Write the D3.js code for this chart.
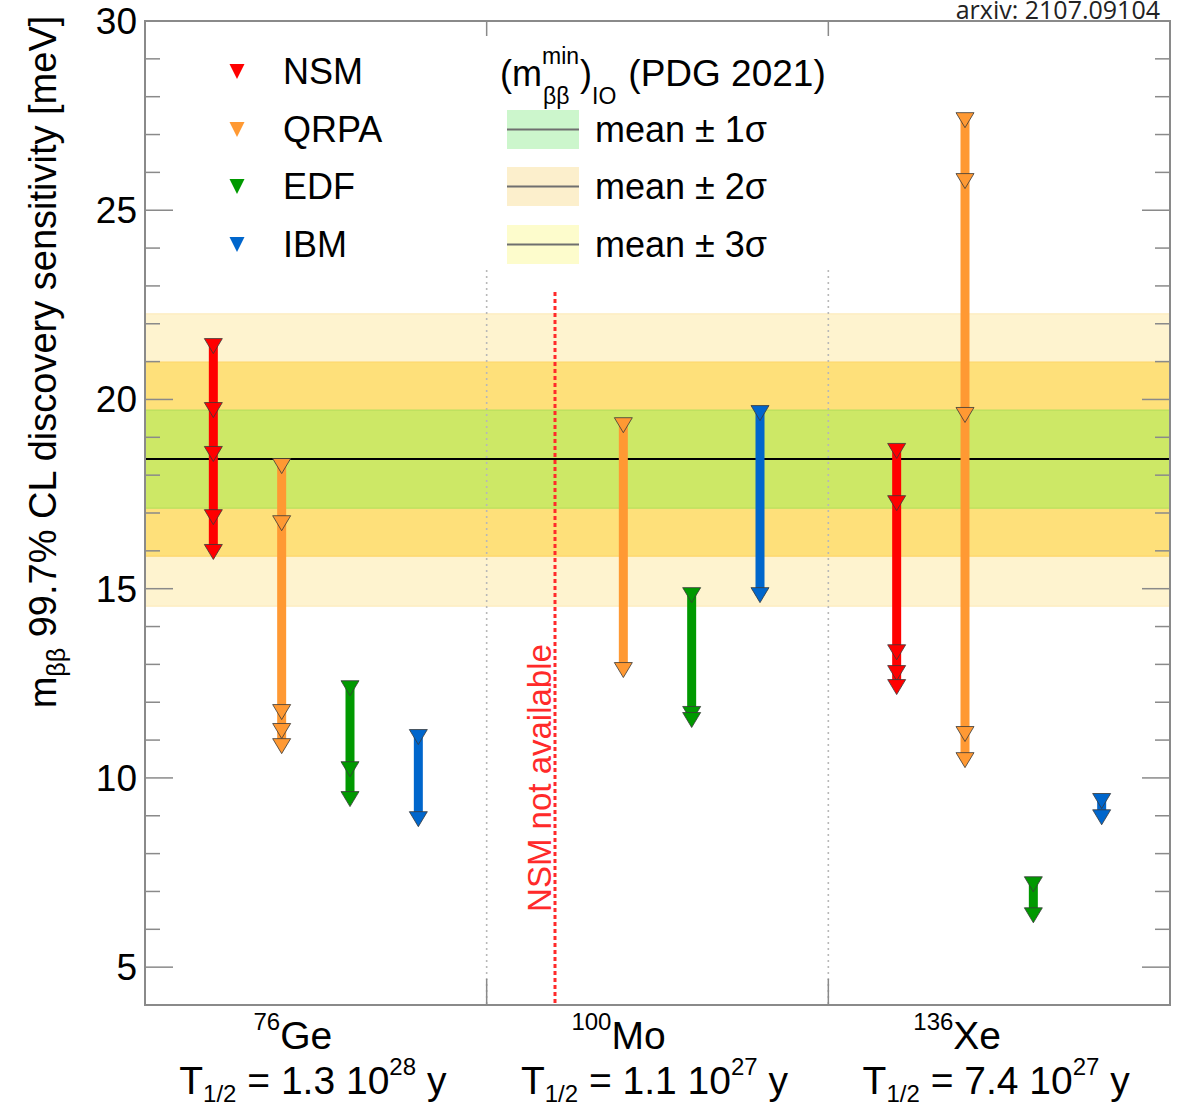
<!DOCTYPE html>
<html>
<head>
<meta charset="utf-8">
<script src="https://cdn.jsdelivr.net/npm/d3@7"></script>
<style>
  body { margin: 0; background: #fff; }
  svg { display: block; }
  text { font-family: "Liberation Sans", Arial, Helvetica, sans-serif; fill: #000; }
</style>
</head>
<body>
<svg id="chart" width="1180" height="1107"></svg>
<script>
// ---- data -------------------------------------------------------------
const isotopes = ["Ge", "Mo", "Xe"];
const massNumbers = ["76", "100", "136"];
const halfLives = ["1.3", "1.1", "7.4"];
const halfLifeExponents = ["28", "27", "27"];

const models = ["NSM", "QRPA", "EDF", "IBM"];
const modelColors = ["#ff0000", "#ff9933", "#009900", "#0066cc"];

// 99.7% CL discovery sensitivity [meV], one list per isotope (Ge, Mo, Xe)
const nsmSensitivity  = [[21.41, 19.72, 18.56, 16.89, 15.97], [], [18.64, 17.26, 13.32, 12.77, 12.40]];
const qrpaSensitivity = [[18.24, 16.73, 11.74, 11.24, 10.84], [19.32, 12.85], [27.38, 25.77, 19.59, 11.16, 10.47]];
const edfSensitivity  = [[12.37, 10.23, 9.44], [14.83, 11.69, 11.53], [7.19, 6.37]];
const ibmSensitivity  = [[11.08, 8.91], [19.64, 14.83], [9.39, 8.96]];

// (m_bb^min)_IO from PDG 2021
const ioMean = 18.43;
const bandLabels = ["mean \u00b1 1\u03c3", "mean \u00b1 2\u03c3", "mean \u00b1 3\u03c3"];
const bandLower = [17.13, 15.86, 14.54];
const bandUpper = [19.72, 20.99, 22.26];

const yTicks = [5, 10, 15, 20, 25, 30];

// ---- layout -----------------------------------------------------------
const frame = { left: 145, right: 1170, top: 21, bottom: 1005 };
const bandFill = ["#cde866", "#fee07a", "#fef3cf"];
const bandEdge = ["#b9df5c", "#fdd66a", "#fdebbd"];
const legendBoxFill = ["#ccf6cc", "#fcefcc", "#fdfccc"];

const svg = d3.select("#chart");

// each isotope takes 5 units: 4 model slots at 1..4, dividers at 5 and 10
const x = d3.scaleLinear().domain([0, 15]).range([frame.left, frame.right]);
const y = d3.scaleLinear().domain([4, 30]).range([frame.bottom, frame.top]);

const sensitivity = [nsmSensitivity, qrpaSensitivity, edfSensitivity, ibmSensitivity];

// ---- IO bands -------------------------------------------------------
const bandG = svg.append("g");
[2, 1, 0].forEach(i => {
  bandG.append("rect")
    .attr("x", frame.left).attr("width", frame.right - frame.left)
    .attr("y", y(bandUpper[i])).attr("height", y(bandLower[i]) - y(bandUpper[i]))
    .attr("fill", bandFill[i]);
  [bandLower[i], bandUpper[i]].forEach(v => {
    bandG.append("line")
      .attr("x1", frame.left).attr("x2", frame.right)
      .attr("y1", y(v)).attr("y2", y(v))
      .attr("stroke", bandEdge[i]).attr("stroke-width", 1.2);
  });
});
bandG.append("line")
  .attr("x1", frame.left).attr("x2", frame.right)
  .attr("y1", y(ioMean)).attr("y2", y(ioMean))
  .attr("stroke", "#000").attr("stroke-width", 2);

// ---- isotope dividers ----------------------------------------------
const legendBottom = 270;
[5, 10].forEach(d => {
  svg.append("line")
    .attr("x1", x(d)).attr("x2", x(d))
    .attr("y1", legendBottom).attr("y2", frame.bottom)
    .attr("stroke", "#b8b8b8").attr("stroke-width", 1.6)
    .attr("stroke-dasharray", "2,4");
});

// NSM missing for 100Mo
const moNsmX = x(1 * 5 + 1);
svg.append("line")
  .attr("x1", moNsmX).attr("x2", moNsmX)
  .attr("y1", 292).attr("y2", frame.bottom)
  .attr("stroke", "#ff2a2a").attr("stroke-width", 3)
  .attr("stroke-dasharray", "4,3");
svg.append("text")
  .attr("transform", `translate(${moNsmX - 4},${778}) rotate(-90)`)
  .attr("text-anchor", "middle")
  .style("font-size", "33px")
  .style("fill", "#ff2a2a")
  .text("NSM not available");

// ---- sensitivity arrows ---------------------------------------------
const triW = 18, triH = 15;
const triPath = `M${-triW / 2},${-triH / 2}L${triW / 2},${-triH / 2}L0,${triH / 2}Z`;

const arrowG = svg.append("g");
isotopes.forEach((iso, ii) => {
  models.forEach((m, mi) => {
    const vals = sensitivity[mi][ii];
    if (!vals.length) return;
    const cx = x(ii * 5 + mi + 1);
    const hi = d3.max(vals), lo = d3.min(vals);
    arrowG.append("line")
      .attr("x1", cx).attr("x2", cx)
      .attr("y1", y(hi)).attr("y2", y(lo))
      .attr("stroke", modelColors[mi]).attr("stroke-width", 9);
    vals.forEach(v => {
      arrowG.append("path")
        .attr("d", triPath)
        .attr("transform", `translate(${cx},${y(v)})`)
        .attr("fill", modelColors[mi])
        .attr("stroke", "#3a3a3a").attr("stroke-width", 1)
        .attr("stroke-opacity", 0.8);
    });
  });
});

// ---- frame and ticks --------------------------------------------------
const axisColor = "#8a8a8a";
svg.append("rect")
  .attr("x", frame.left).attr("y", frame.top)
  .attr("width", frame.right - frame.left).attr("height", frame.bottom - frame.top)
  .attr("fill", "none").attr("stroke", axisColor).attr("stroke-width", 2);

const tickG = svg.append("g").attr("stroke", axisColor).attr("stroke-width", 1.5);
d3.range(5, 30).forEach(v => {
  const major = v % 5 === 0;
  const len = major ? 28 : 15;
  tickG.append("line").attr("x1", frame.left).attr("x2", frame.left + len)
    .attr("y1", y(v)).attr("y2", y(v));
  tickG.append("line").attr("x1", frame.right).attr("x2", frame.right - len)
    .attr("y1", y(v)).attr("y2", y(v));
});
[5, 10].forEach(d => {
  tickG.append("line").attr("x1", x(d)).attr("x2", x(d))
    .attr("y1", frame.bottom).attr("y2", frame.bottom - 26);
  tickG.append("line").attr("x1", x(d)).attr("x2", x(d))
    .attr("y1", frame.top).attr("y2", frame.top + 15);
});

// y tick labels
svg.append("g").selectAll("text")
  .data(yTicks).join("text")
  .attr("x", frame.left - 8)
  .attr("y", d => y(d) + 13)
  .attr("text-anchor", "end")
  .style("font-size", "37px")
  .text(d => d);

// y axis title
const yTitle = svg.append("text")
  .attr("transform", `translate(56,362) rotate(-90)`)
  .attr("text-anchor", "middle")
  .style("font-size", "38px");
yTitle.append("tspan").text("m");
yTitle.append("tspan").attr("dy", 9).style("font-size", "25px").text("\u03b2\u03b2");
yTitle.append("tspan").attr("dy", -9).text(" 99.7% CL discovery sensitivity [meV]");

// isotope labels
const isoLabelShift = [-23, -39, -42];
isotopes.forEach((iso, ii) => {
  const cx = x(ii * 5 + 2.5);
  const t1 = svg.append("text")
    .attr("x", cx + isoLabelShift[ii]).attr("y", 1049)
    .attr("text-anchor", "middle")
    .style("font-size", "39px");
  t1.append("tspan").attr("dy", -19).style("font-size", "24px").text(massNumbers[ii]);
  t1.append("tspan").attr("dy", 19).text(iso);

  const t2 = svg.append("text")
    .attr("x", cx - 3).attr("y", 1094)
    .attr("text-anchor", "middle")
    .style("font-size", "39px");
  t2.append("tspan").text("T");
  t2.append("tspan").attr("dy", 8).style("font-size", "24px").text("1/2");
  t2.append("tspan").attr("dy", -8).text(` = ${halfLives[ii]} 10`);
  t2.append("tspan").attr("dy", -19).style("font-size", "24px").text(halfLifeExponents[ii]);
  t2.append("tspan").attr("dy", 19).text(" y");
});

// ---- legend -----------------------------------------------------------
const legG = svg.append("g");
const rowY = [71, 129, 186, 244];
const smallTri = `M-7.5,-7L7.5,-7L0,8Z`;
models.forEach((m, mi) => {
  legG.append("path").attr("d", smallTri)
    .attr("transform", `translate(237,${rowY[mi]})`)
    .attr("fill", modelColors[mi]);
  legG.append("text").attr("x", 283).attr("y", rowY[mi] + 13)
    .style("font-size", "36px").text(m);
});

// header: (m_bb^min)_IO (PDG 2021)
function place(txt, xPos, yPos, size) {
  const t = legG.append("text").attr("x", xPos).attr("y", yPos)
    .style("font-size", size + "px").text(txt);
  return t.node().getComputedTextLength();
}
let hx = 500;
hx += place("(m", hx, 86, 36);
const wMin = place("min", hx, 64, 23);
const wBB = place("\u03b2\u03b2", hx + 1, 104, 23);
hx += Math.max(wMin, wBB + 1) + 1;
hx += place(")", hx, 86, 36);
hx += place("IO", hx, 104, 23);
place("(PDG 2021)", hx + 12, 86, 37);

const boxY = [110, 167, 225];
bandLabels.forEach((lab, i) => {
  legG.append("rect").attr("x", 507).attr("y", boxY[i])
    .attr("width", 72).attr("height", 39)
    .attr("fill", legendBoxFill[i]);
  legG.append("line").attr("x1", 507).attr("x2", 579)
    .attr("y1", boxY[i] + 19.5).attr("y2", boxY[i] + 19.5)
    .attr("stroke", "#6f6f6f").attr("stroke-width", 2);
  legG.append("text").attr("x", 595).attr("y", boxY[i] + 32)
    .style("font-size", "36px").text(lab);
});

// reference tag
svg.append("text")
  .attr("x", 1160).attr("y", 19)
  .attr("text-anchor", "end")
  .style("font-family", "'Open Sans', 'Noto Sans', sans-serif")
  .style("font-size", "25px")
  .style("fill", "#222")
  .text("arxiv: 2107.09104");
</script>
</body>
</html>
